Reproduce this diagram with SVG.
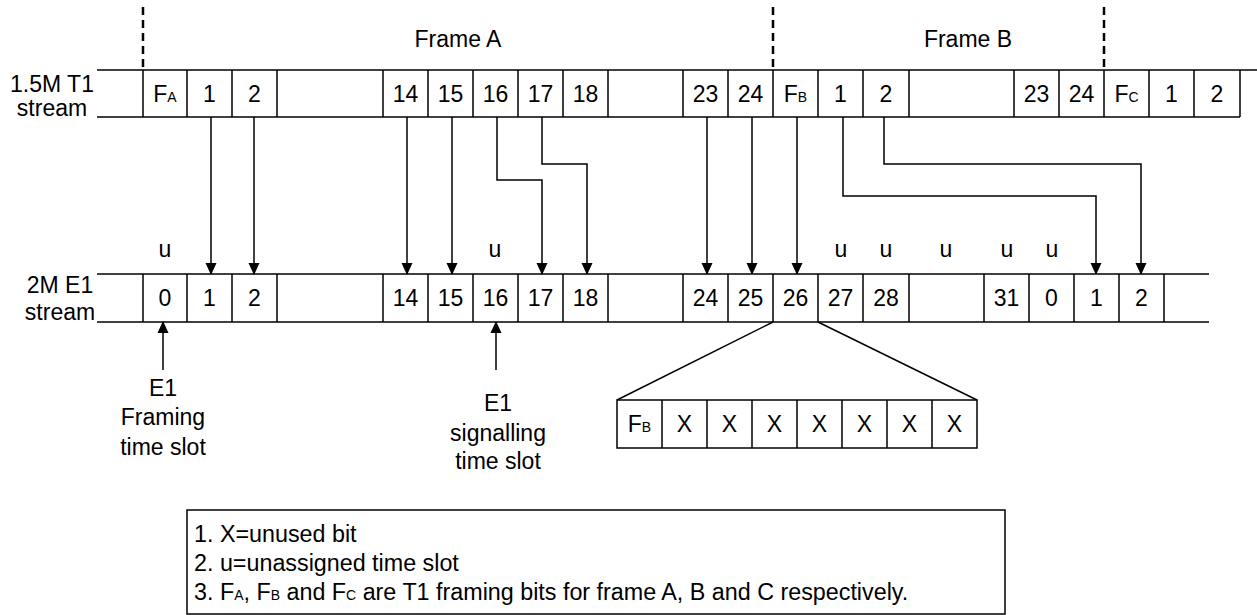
<svg xmlns="http://www.w3.org/2000/svg" width="1257" height="615" viewBox="0 0 1257 615">
<defs>
<style>
.ln{stroke:#000;stroke-width:1.5;fill:none}
.dash{stroke:#000;stroke-width:2.5;stroke-dasharray:8 5;fill:none}
.t{font-family:"Liberation Sans",Arial,sans-serif;font-size:23px;fill:#000}
.m{text-anchor:middle}
.s{font-size:14px}
.lg{font-size:23.3px}
.ar{stroke:#000;stroke-width:1.5;fill:none;marker-end:url(#ah)}
</style>
<marker id="ah" markerWidth="12" markerHeight="13" refX="12" refY="6" orient="auto" markerUnits="userSpaceOnUse" viewBox="0 0 13 12">
<path d="M0,0 L13,6 L0,12 z" fill="#000"/>
</marker>
</defs>
<rect width="1257" height="615" fill="#fff"/>

<g id="frame-markers">
<line class="dash" x1="143" y1="7" x2="143" y2="70"/>
<line class="dash" x1="773" y1="7" x2="773" y2="70"/>
<line class="dash" x1="1104" y1="7" x2="1104" y2="70"/>
<text class="t m" x="458" y="47">Frame A</text>
<text class="t m" x="968" y="47">Frame B</text>
</g>

<g id="t1-stream">
<text class="t m" x="52" y="92">1.5M T1</text>
<text class="t m" x="52" y="116">stream</text>
<line class="ln" x1="97" y1="70" x2="1257" y2="70"/>
<line class="ln" x1="97" y1="117" x2="1240" y2="117"/>
<path class="ln" d="M143,70V117M187,70V117M232,70V117M277,70V117M383,70V117M428,70V117M473,70V117M518,70V117M563,70V117M608,70V117M683,70V117M728,70V117M773,70V117M818,70V117M863,70V117M909,70V117M1014,70V117M1059,70V117M1104,70V117M1149,70V117M1194,70V117M1240,70V117"/>
<g class="t m">
<text x="165" y="102">F<tspan class="s">A</tspan></text>
<text x="209.5" y="102">1</text>
<text x="254.5" y="102">2</text>
<text x="405.5" y="102">14</text>
<text x="450.5" y="102">15</text>
<text x="495.5" y="102">16</text>
<text x="540.5" y="102">17</text>
<text x="585.5" y="102">18</text>
<text x="705.5" y="102">23</text>
<text x="750.5" y="102">24</text>
<text x="795.5" y="102">F<tspan class="s">B</tspan></text>
<text x="840.5" y="102">1</text>
<text x="886" y="102">2</text>
<text x="1036.5" y="102">23</text>
<text x="1081.5" y="102">24</text>
<text x="1126.5" y="102">F<tspan class="s">C</tspan></text>
<text x="1171.5" y="102">1</text>
<text x="1217" y="102">2</text>
</g>
</g>

<g id="e1-stream">
<text class="t m" x="60" y="293">2M E1</text>
<text class="t m" x="60" y="320">stream</text>
<line class="ln" x1="97" y1="274" x2="1209" y2="274"/>
<line class="ln" x1="97" y1="322" x2="1209" y2="322"/>
<path class="ln" d="M143,274V322M187,274V322M232,274V322M277,274V322M383,274V322M428,274V322M473,274V322M518,274V322M563,274V322M608,274V322M683,274V322M728,274V322M773,274V322M818,274V322M863,274V322M909,274V322M984,274V322M1029,274V322M1074,274V322M1119,274V322M1164,274V322"/>
<g class="t m">
<text x="165" y="306">0</text>
<text x="209.5" y="306">1</text>
<text x="254.5" y="306">2</text>
<text x="405.5" y="306">14</text>
<text x="450.5" y="306">15</text>
<text x="495.5" y="306">16</text>
<text x="540.5" y="306">17</text>
<text x="585.5" y="306">18</text>
<text x="705.5" y="306">24</text>
<text x="750.5" y="306">25</text>
<text x="795.5" y="306">26</text>
<text x="840.5" y="306">27</text>
<text x="886" y="306">28</text>
<text x="1006.5" y="306">31</text>
<text x="1051.5" y="306">0</text>
<text x="1096.5" y="306">1</text>
<text x="1141.5" y="306">2</text>
</g>
<g class="t m">
<text x="165" y="257">u</text>
<text x="495" y="257">u</text>
<text x="841" y="257">u</text>
<text x="886" y="257">u</text>
<text x="946" y="257">u</text>
<text x="1007" y="257">u</text>
<text x="1052" y="257">u</text>
</g>
</g>

<g id="connectors">
<line class="ar" x1="211" y1="117" x2="211" y2="274"/>
<line class="ar" x1="254" y1="117" x2="254" y2="274"/>
<line class="ar" x1="407" y1="117" x2="407" y2="274"/>
<line class="ar" x1="452" y1="117" x2="452" y2="274"/>
<polyline class="ar" points="497,117 497,180 542,180 542,274"/>
<polyline class="ar" points="542,117 542,164 587,164 587,274"/>
<line class="ar" x1="707" y1="117" x2="707" y2="274"/>
<line class="ar" x1="752" y1="117" x2="752" y2="274"/>
<line class="ar" x1="797" y1="117" x2="797" y2="274"/>
<polyline class="ar" points="843,117 843,196 1096,196 1096,274"/>
<polyline class="ar" points="884,117 884,164 1141,164 1141,274"/>
<line class="ar" x1="163" y1="370" x2="163" y2="322"/>
<line class="ar" x1="496" y1="370" x2="496" y2="322"/>
<line class="ln" x1="773" y1="322" x2="617" y2="400"/>
<line class="ln" x1="818" y1="322" x2="977" y2="400"/>
</g>

<g id="label-framing" class="t m">
<text x="163" y="396">E1</text>
<text x="163" y="425">Framing</text>
<text x="163" y="455">time slot</text>
</g>

<g id="label-signalling" class="t m">
<text x="498" y="411">E1</text>
<text x="498" y="441">signalling</text>
<text x="498" y="469">time slot</text>
</g>

<g id="ts26-bits">
<rect class="ln" x="617" y="400" width="360" height="48"/>
<path class="ln" d="M662,400V448M707,400V448M752,400V448M797,400V448M842,400V448M887,400V448M932,400V448"/>
<g class="t m">
<text x="639.5" y="432">F<tspan class="s">B</tspan></text>
<text x="684.5" y="432">X</text>
<text x="729.5" y="432">X</text>
<text x="774.5" y="432">X</text>
<text x="819.5" y="432">X</text>
<text x="864.5" y="432">X</text>
<text x="909.5" y="432">X</text>
<text x="954.5" y="432">X</text>
</g>
</g>

<g id="legend">
<rect class="ln" x="187" y="510" width="818" height="104"/>
<text class="t lg" x="194" y="542">1. X=unused bit</text>
<text class="t lg" x="194" y="571">2. u=unassigned time slot</text>
<text class="t lg" x="194" y="600">3. F<tspan class="s">A</tspan>, F<tspan class="s">B</tspan> and F<tspan class="s">C</tspan> are T1 framing bits for frame A, B and C respectively.</text>
</g>
</svg>
